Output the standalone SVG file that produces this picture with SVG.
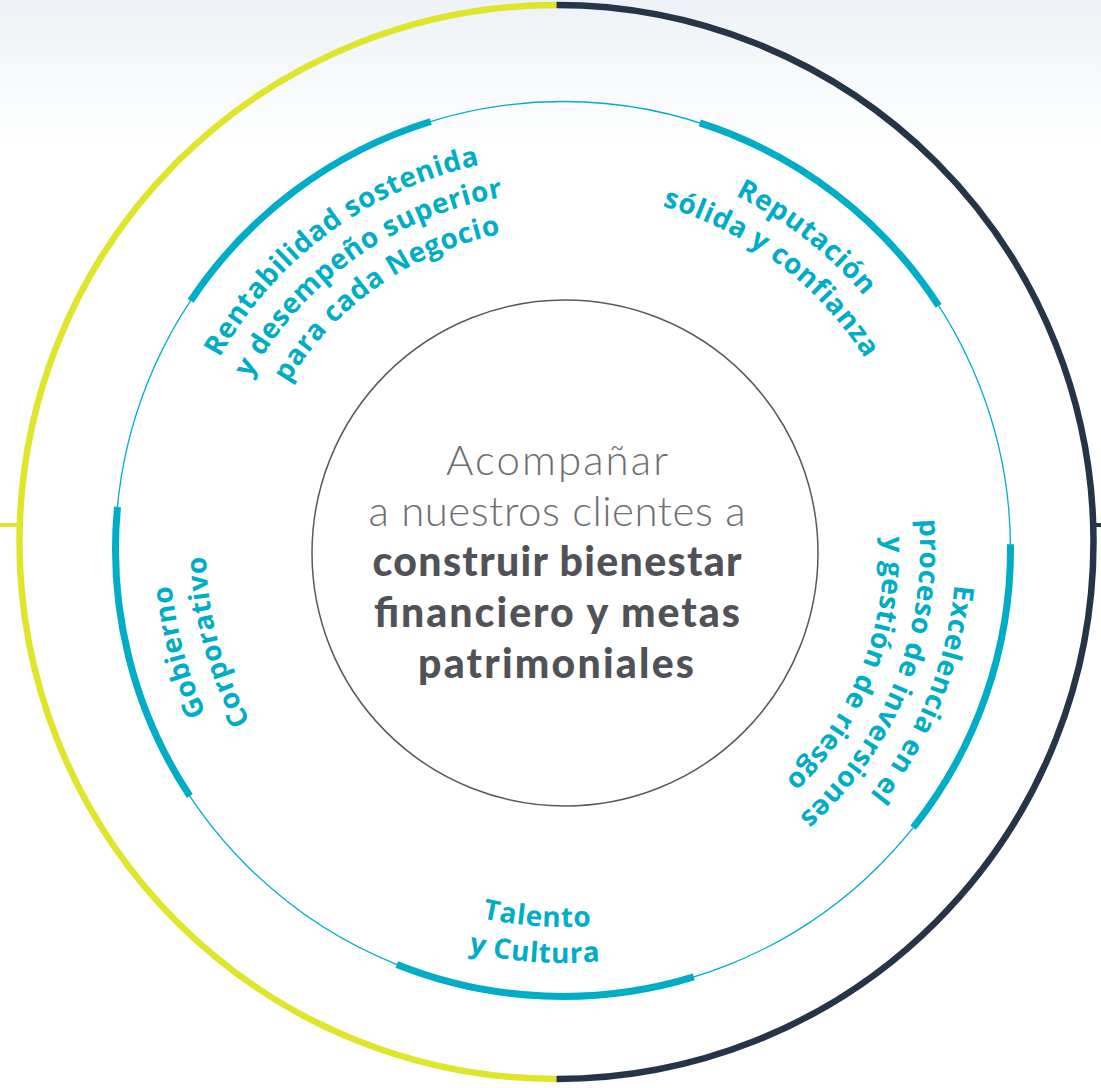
<svg xmlns="http://www.w3.org/2000/svg" width="1101" height="1088" viewBox="0 0 1101 1088">
<style>
.ring-y{fill:none;stroke:#dfe52a;stroke-width:6.5}
.ring-d{fill:none;stroke:#253547;stroke-width:6.5}
.thin{fill:none;stroke:#00adc7;stroke-width:1.3}
.thick{fill:none;stroke:#00adc7;stroke-width:7}
.inner{fill:none;stroke:#58595b;stroke-width:1.5}
.lbl{font-family:"Open Sans","Liberation Sans",sans-serif;font-weight:700;font-size:28px;letter-spacing:0.6px;fill:#00adc7;text-anchor:middle}
.lt{font-family:Lato,"Open Sans",sans-serif;font-weight:300;font-size:42px;fill:#6d6e71;text-anchor:middle}
.bd{font-family:Lato,"Open Sans",sans-serif;font-weight:900;font-size:41px;fill:#505257;text-anchor:middle}
</style>
<defs>
<linearGradient id="bg" x1="0" y1="0" x2="0" y2="1">
<stop offset="0" stop-color="#eef2f6"/>
<stop offset="1" stop-color="#ffffff"/>
</linearGradient>
<path id="cw393" d="M175.97,480.75 A393,393 0 0,1 950.03,480.75"/>
<path id="cw357" d="M211.43,487.01 A357,357 0 0,1 914.57,487.01"/>
<path id="cw321" d="M246.88,493.26 A321,321 0 0,1 879.12,493.26"/>
<path id="ccw378" d="M190.75,614.64 A378,378 0 0,0 935.25,614.64"/>
<path id="ccw414" d="M155.29,620.89 A414,414 0 0,0 970.71,620.89"/>
</defs>
<rect width="1101" height="1088" fill="#ffffff"/>
<rect width="1101" height="150" fill="url(#bg)"/>
<g id="connectors">
<path class="ring-y" d="M556.5,5 A537,537 0 0,0 556.5,1079"/>
<path class="ring-d" d="M556.5,5 A537,537 0 0,1 556.5,1079"/>
<line x1="0" y1="525" x2="19" y2="525" stroke="#dfe52a" stroke-width="4"/>
<line x1="1094" y1="525" x2="1101" y2="525" stroke="#253547" stroke-width="4"/>
<circle class="thin" cx="563" cy="549" r="447.5"/>
<path class="thick" d="M190.7,300.7 A447.5,447.5 0 0,1 430.7,121.5"/>
<path class="thick" d="M699.8,122.9 A447.5,447.5 0 0,1 938.7,305.9"/>
<path class="thick" d="M1010.5,544.3 A447.5,447.5 0 0,1 913.2,827.6"/>
<path class="thick" d="M693.8,976.9 A447.5,447.5 0 0,1 396.8,964.5"/>
<path class="thick" d="M189.8,796.0 A447.5,447.5 0 0,1 117.5,506.9"/>
</g>
<g id="center">
<circle class="inner" cx="565" cy="553" r="253"/>
<text class="lt" x="557" y="475" textLength="222">Acompañar</text>
<text class="lt" x="557" y="526" textLength="377">a nuestros clientes a</text>
<text class="bd" x="557" y="576" textLength="369">construir bienestar</text>
<text class="bd" x="557" y="627" textLength="366">financiero y metas</text>
<text class="bd" x="556" y="678" textLength="276">patrimoniales</text>
</g>
<g id="label-rentabilidad" transform="rotate(-36.5 563 549)">
<text class="lbl"><textPath href="#cw393" startOffset="50%">Rentabilidad sostenida</textPath></text>
<text class="lbl" transform="rotate(1 563 549)"><textPath href="#cw357" startOffset="50%">y desempeño superior</textPath></text>
<text class="lbl" transform="rotate(1.5 563 549)"><textPath href="#cw321" startOffset="50%">para cada Negocio</textPath></text>
</g>
<g id="label-reputacion" transform="rotate(38 563 549)">
<text class="lbl"><textPath href="#cw393" startOffset="50%">Reputación</textPath></text>
<text class="lbl" transform="rotate(-1 563 549)"><textPath href="#cw357" startOffset="50%">sólida y confianza</textPath></text>
</g>
<g id="label-excelencia" transform="rotate(112 563 549)">
<text class="lbl"><textPath href="#cw393" startOffset="50%">Excelencia en el</textPath></text>
<text class="lbl"><textPath href="#cw357" startOffset="50%">proceso de inversiones</textPath></text>
<text class="lbl"><textPath href="#cw321" startOffset="50%">y gestión de riesgo</textPath></text>
</g>
<g id="label-talento" transform="rotate(4 563 549)">
<text class="lbl"><textPath href="#ccw378" startOffset="50%">Talento</textPath></text>
<text class="lbl"><textPath href="#ccw414" startOffset="50%">y Cultura</textPath></text>
</g>
<g id="label-gobierno" transform="rotate(-105 563 549)">
<text class="lbl"><textPath href="#cw393" startOffset="50%">Gobierno</textPath></text>
<text class="lbl"><textPath href="#cw357" startOffset="50%">Corporativo</textPath></text>
</g>
</svg>
